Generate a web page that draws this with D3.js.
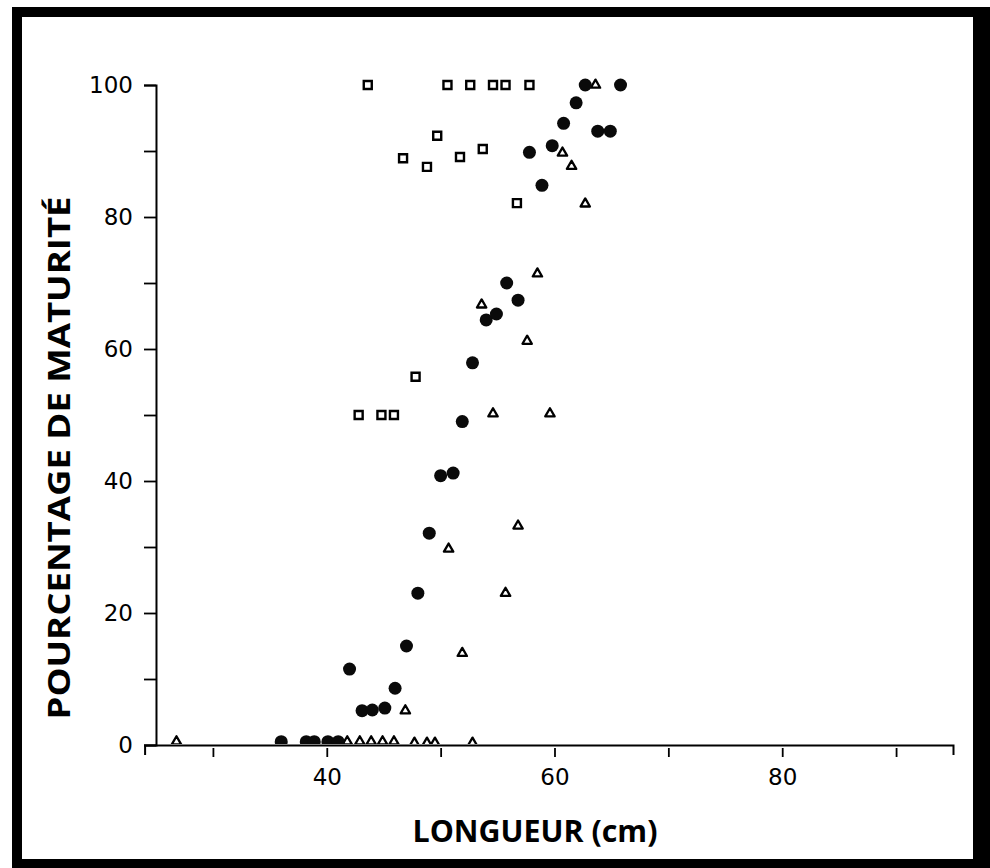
<!DOCTYPE html>
<html>
<head>
<meta charset="utf-8">
<script src="https://cdn.jsdelivr.net/npm/d3@7"></script>
<style>
  body { margin: 0; background: #fff; }
  svg { display: block; }
</style>
</head>
<body>
<svg id="chart"></svg>
<script>
// filled circles
const circleLen = [36, 38.2, 38.9, 40.1, 41, 42, 43.1, 44, 45.1, 46, 47, 48, 49, 50, 51.1, 51.9, 52.8, 54, 54.9, 55.8, 56.8, 57.8, 58.9, 59.8, 60.8, 61.9, 62.7, 63.8, 64.9, 65.8];
const circlePct = [0.5, 0.5, 0.5, 0.5, 0.5, 11.5, 5.2, 5.3, 5.6, 8.6, 15, 23, 32.1, 40.8, 41.2, 49, 57.9, 64.4, 65.3, 70, 67.4, 89.8, 84.8, 90.8, 94.2, 97.3, 100, 93, 93, 100];

// open squares
const squareLen = [42.8, 44.8, 45.9, 47.8, 43.6, 46.7, 48.8, 49.7, 50.6, 51.7, 52.6, 53.7, 54.6, 55.7, 56.7, 57.8];
const squarePct = [50, 50, 50, 55.8, 100, 88.9, 87.6, 92.3, 100, 89.1, 100, 90.3, 100, 100, 82.1, 100];

// open triangles
const triLen = [26.8, 41.8, 42.9, 43.9, 44.9, 45.9, 46.9, 47.7, 48.8, 49.5, 50.7, 51.9, 52.8, 53.6, 54.6, 55.7, 56.8, 57.6, 58.5, 59.6, 60.7, 61.5, 62.7, 63.6];
const triPct = [0.5, 0.5, 0.5, 0.5, 0.5, 0.5, 5.2, 0.3, 0.3, 0.3, 29.7, 13.9, 0.3, 66.7, 50.2, 23, 33.2, 61.2, 71.4, 50.2, 89.7, 87.7, 82, 100];

const xTicks = [30, 40, 50, 60, 70, 80, 90];
const xLabels = [40, 60, 80];
const yTicks = [0, 10, 20, 30, 40, 50, 60, 70, 80, 90, 100];
const yLabels = [0, 20, 40, 60, 80, 100];

const width = 990, height = 868;
const tickFont = "'DejaVu Sans', sans-serif";
const titleFont = "'Open Sans', 'Lato', sans-serif";

const svg = d3.select("#chart").attr("width", width).attr("height", height);

// thick black frame
svg.append("rect").attr("x", 12).attr("y", 7).attr("width", width - 12).attr("height", height - 7).attr("fill", "#000");
svg.append("rect").attr("x", 22).attr("y", 17).attr("width", 951).attr("height", 842).attr("fill", "#fff");

const x = d3.scaleLinear().domain([24, 95]).range([144.6, 953]);
const y = d3.scaleLinear().domain([0, 100]).range([745, 85]);

// x axis
const gx = svg.append("g")
  .attr("transform", `translate(0,${y(0)})`)
  .call(d3.axisBottom(x)
    .tickValues(xTicks)
    .tickSizeOuter(0)
    .tickSize(10)
    .tickFormat(d => xLabels.includes(d) ? d : ""));
gx.select(".domain").attr("stroke", "#000").attr("stroke-width", 2);
gx.selectAll(".tick line").attr("y1", 3).attr("y2", 12).attr("stroke-width", 1.8);
gx.selectAll(".tick text")
  .attr("y", 24).attr("dy", "0.71em")
  .attr("font-family", tickFont).attr("font-size", 23).attr("fill", "#000");

// y axis
const gy = svg.append("g")
  .attr("transform", `translate(${x(25)},0)`)
  .call(d3.axisLeft(y)
    .tickValues(yTicks)
    .tickSizeOuter(0)
    .tickSize(12)
    .tickPadding(11)
    .tickFormat(d => yLabels.includes(d) ? d : ""));
gy.select(".domain").attr("stroke", "#000").attr("stroke-width", 2);
gy.selectAll(".tick line").attr("stroke-width", 1.8);
gy.selectAll(".tick text")
  .attr("font-family", tickFont).attr("font-size", 23).attr("fill", "#000");

// axis titles
svg.append("text")
  .attr("x", 535).attr("y", 842)
  .attr("text-anchor", "middle")
  .attr("font-family", titleFont).attr("font-weight", "bold").attr("font-size", 30)
  .attr("textLength", 245).attr("lengthAdjust", "spacingAndGlyphs")
  .text("LONGUEUR (cm)");

svg.append("text")
  .attr("transform", "translate(70,458) rotate(-90)")
  .attr("text-anchor", "middle")
  .attr("font-family", titleFont).attr("font-weight", "bold").attr("font-size", 30)
  .attr("textLength", 523).attr("lengthAdjust", "spacingAndGlyphs")
  .text("POURCENTAGE DE MATURITÉ");

// markers, clipped at the x axis line
svg.append("clipPath").attr("id", "plotclip")
  .append("rect").attr("x", 0).attr("y", 0).attr("width", width).attr("height", y(0) - 1);

const marks = svg.append("g").attr("clip-path", "url(#plotclip)");

marks.selectAll(".sq")
  .data(d3.zip(squareLen, squarePct))
  .join("path")
  .attr("class", "sq")
  .attr("transform", d => `translate(${x(d[0])},${y(d[1])})`)
  .attr("d", d3.symbol(d3.symbolSquare, 64))
  .attr("fill", "#fff").attr("stroke", "#000").attr("stroke-width", 2.4);

marks.selectAll(".tri")
  .data(d3.zip(triLen, triPct))
  .join("path")
  .attr("class", "tri")
  .attr("transform", d => `translate(${x(d[0])},${y(d[1])})`)
  .attr("d", d3.symbol(d3.symbolTriangle, 38))
  .attr("fill", "#fff").attr("stroke", "#000").attr("stroke-width", 2.3)
  .attr("stroke-linejoin", "round");

marks.selectAll(".dot")
  .data(d3.zip(circleLen, circlePct))
  .join("circle")
  .attr("class", "dot")
  .attr("cx", d => x(d[0]))
  .attr("cy", d => y(d[1]))
  .attr("r", 6.5)
  .attr("fill", "#0a0a0a");
</script>
</body>
</html>
